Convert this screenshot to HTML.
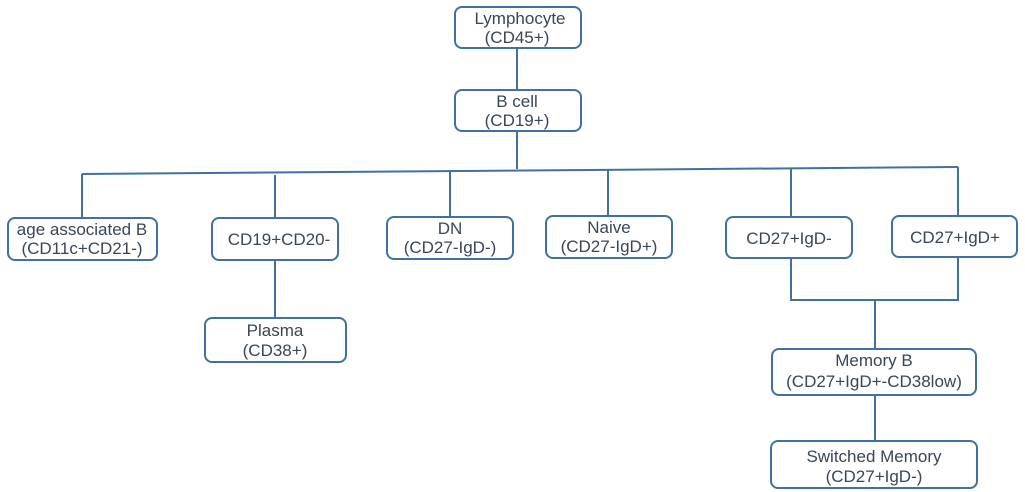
<!DOCTYPE html>
<html><head><meta charset="utf-8"><style>
html,body{margin:0;padding:0;background:#fff;}
svg{display:block}
text{font-family:"Liberation Sans","DejaVu Sans",sans-serif;font-size:17px;fill:#3a4656;text-anchor:middle}
rect{fill:#fff;stroke:#41719c;stroke-width:2}
line,polyline{stroke:#41719c;stroke-width:2;fill:none}
</style></head><body>
<svg width="1025" height="492" viewBox="0 0 1025 492">
<line x1="517" y1="48" x2="517" y2="90"/>
<line x1="517" y1="131" x2="517" y2="169"/>
<line x1="82" y1="174" x2="958" y2="167"/>
<line x1="82" y1="174" x2="82" y2="218"/>
<line x1="275" y1="175" x2="275" y2="218"/>
<line x1="450" y1="171" x2="450" y2="217"/>
<line x1="608" y1="170" x2="608" y2="216"/>
<line x1="791" y1="168" x2="791" y2="217"/>
<line x1="958" y1="167" x2="958" y2="216"/>
<line x1="275" y1="260" x2="275" y2="318"/>
<polyline points="791,258 791,300 958,300 958,257"/>
<line x1="875" y1="300" x2="875" y2="349"/>
<line x1="875" y1="395" x2="875" y2="441"/>

<rect x="455" y="7" width="126" height="41" rx="7"/>
<text x="520" y="24">Lymphocyte</text><text x="517" y="43">(CD45+)</text>
<rect x="455" y="90" width="126" height="41" rx="7"/>
<text x="517" y="107">B cell</text><text x="517" y="126">(CD19+)</text>

<rect x="8" y="218" width="149" height="42" rx="7"/>
<text x="82" y="235">age associated B</text><text x="82" y="254">(CD11c+CD21-)</text>
<rect x="212" y="218" width="126" height="42" rx="7"/>
<text x="279" y="245">CD19+CD20-</text>
<rect x="387" y="217" width="126" height="42" rx="7"/>
<text x="450" y="234">DN</text><text x="450" y="253">(CD27-IgD-)</text>
<rect x="546" y="216" width="126" height="42" rx="7"/>
<text x="609" y="233">Naive</text><text x="609" y="252">(CD27-IgD+)</text>
<rect x="726" y="217" width="126" height="41" rx="7"/>
<text x="789" y="244">CD27+IgD-</text>
<rect x="892" y="216" width="125" height="41" rx="7"/>
<text x="955" y="243">CD27+IgD+</text>

<rect x="205" y="318" width="141" height="44" rx="7"/>
<text x="275" y="336">Plasma</text><text x="275" y="356">(CD38+)</text>
<rect x="772" y="349" width="204" height="46" rx="7"/>
<text x="874" y="366">Memory B</text><text x="874" y="387">(CD27+IgD+-CD38low)</text>
<rect x="771" y="441" width="206" height="47" rx="7"/>
<text x="874" y="462">Switched Memory</text><text x="874" y="482">(CD27+IgD-)</text>
</svg>
</body></html>
